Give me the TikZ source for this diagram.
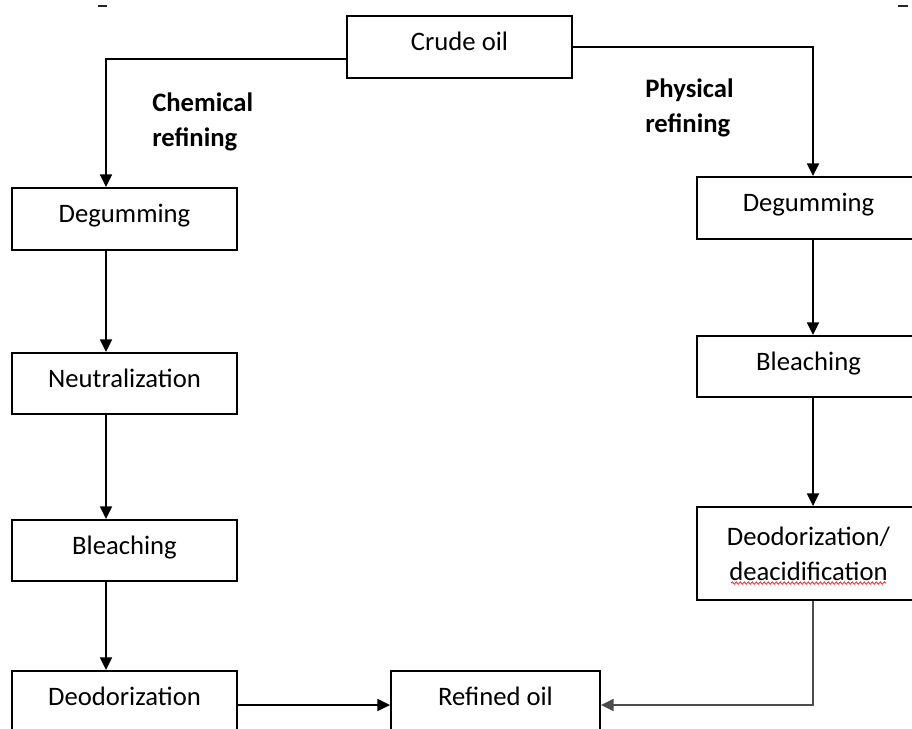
\documentclass[tikz,border=0pt]{standalone}
\usepackage{fontspec}
\setmainfont{Carlito}
\usetikzlibrary{arrows.meta,calc,decorations.pathmorphing}

\begin{document}
\begin{tikzpicture}[x=0.75pt,y=-0.75pt,
  every node/.style={font=\fontsize{20pt}{26pt}\selectfont, text=black},
  stepbox/.style={draw=black, line width=1.4pt, rectangle, inner sep=0pt,
    anchor=north, text height=26.25pt, text depth=20pt},
  wide/.style={minimum width=168.75pt},
  link/.style={draw=black, line width=1.3pt},
  arr/.style={link, -{Triangle[length=9.5pt,width=9pt]}},
  tag/.style={font=\fontsize{20pt}{26pt}\selectfont\bfseries, align=left, inner sep=0pt, anchor=west}
]
\useasboundingbox (0,0) rectangle (912,728);

% small marks along the top edge
\draw[line width=1.2pt, black!85] (98,6) -- (107,6);
\draw[line width=1.2pt, black!85] (898,6) -- (908,6);

% source
\node[stepbox, wide] (crude) at (459.5,15) {Crude oil};

% chemical refining column
\node[stepbox, wide] (lA) at (124.5,187) {Degumming};
\node[stepbox, wide, text depth=19.5pt] (lB) at (124.5,352) {Neutralization};
\node[stepbox, wide, text depth=19.5pt] (lC) at (124.5,519) {Bleaching};
\node[stepbox, wide, text depth=30pt] (lD) at (124.5,670) {Deodorization};

% physical refining column
\node[stepbox, minimum width=167.25pt] (rA) at (808.5,176) {Degumming};
\node[stepbox, minimum width=167.25pt, text depth=19.5pt] (rB) at (808.5,335) {Bleaching};
\node[draw=black, line width=1.4pt, inner sep=0pt, minimum width=167.25pt,
      minimum height=69.75pt, align=center] (rC) at (808.5,553.5)
      {Deodorization/\\deacidification};

% product
\node[stepbox, minimum width=156.75pt, text depth=30pt] (refined) at (495.5,670) {Refined oil};

% route labels
\node[tag] (chem) at (152,122) {Chemical\\refining};
\node[tag] (phys) at (645,108) {Physical\\refining};

% spelling mark under the second line
\draw[red!85, line width=0.6pt, decorate,
      decoration={snake, amplitude=0.9pt, segment length=3pt}]
      (731,583) -- (886,583);

% guide coordinates for the two columns and the bottom row
\coordinate (lx) at (106,0);
\coordinate (rx) at (813,0);
\coordinate (by) at (0,705);

% connectors
\draw[arr] ($(crude.west)+(0,12)$) -| (lx |- lA.north);
\draw[arr] (crude.east) -| (rx |- rA.north);
\draw[arr] (lx |- lA.south) -- (lx |- lB.north);
\draw[arr] (lx |- lB.south) -- (lx |- lC.north);
\draw[arr] (lx |- lC.south) -- (lx |- lD.north);
\draw[arr] (rx |- rA.south) -- (rx |- rB.north);
\draw[arr] (rx |- rB.south) -- (rx |- rC.north);
\draw[arr] (lD.east |- by) -- (refined.west |- by);
\draw[arr, draw=black!70] (rx |- rC.south) |- (refined.east |- by);
\end{tikzpicture}
\end{document}
